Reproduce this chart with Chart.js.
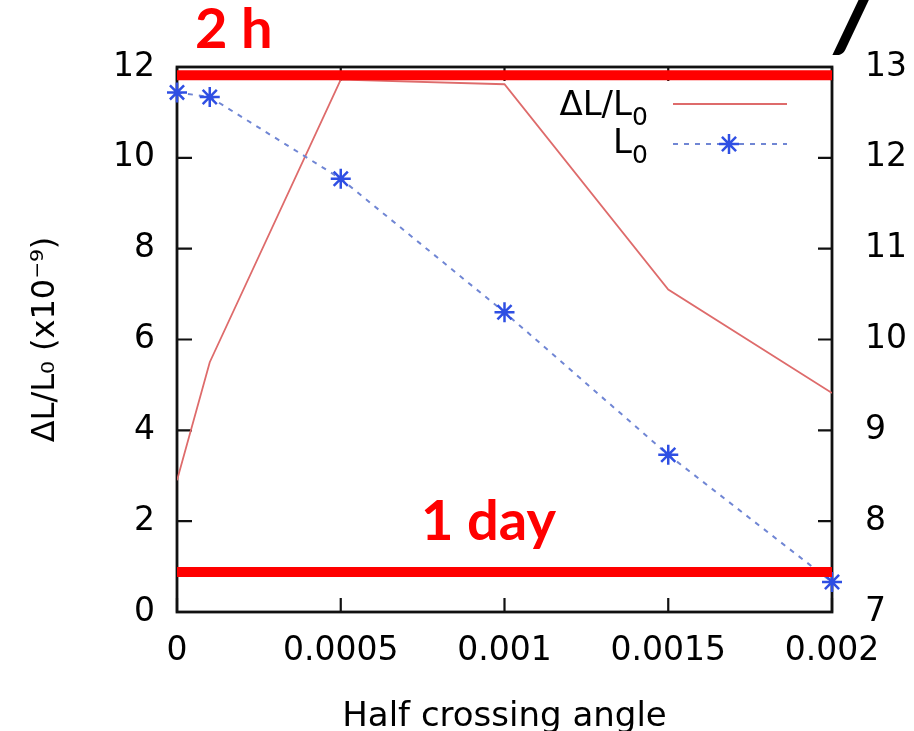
<!DOCTYPE html>
<html>
<head>
<meta charset="utf-8">
<script src="https://cdn.jsdelivr.net/npm/chart.js@4.4.1/dist/chart.umd.min.js"></script>
<style>
html,body{margin:0;padding:0;background:#fff;}
</style>
</head>
<body>
<canvas id="chart" width="914" height="731"></canvas>
<script>
// half crossing angle
var angles = [0, 0.0001, 0.0005, 0.001, 0.0015, 0.002];
// dL/L0 (x1e-9), left axis
var deltaL = [2.9, 5.5, 11.72, 11.62, 7.1, 4.82];
// L0, right axis
var lumi0 = [12.72, 12.67, 11.77, 10.3, 8.73, 7.33];
// thick red marker lines, in left axis units
var markLevels = [11.82, 0.88];
var markLabels = ['2 h', '1 day'];
var xTicks = [0, 0.0005, 0.001, 0.0015, 0.002];
var xTickLabels = ['0', '0.0005', '0.001', '0.0015', '0.002'];
var leftTicks = [0, 2, 4, 6, 8, 10, 12];
var rightTicks = [7, 8, 9, 10, 11, 12, 13];

Chart.defaults.font.family = '"DejaVu Sans"';
Chart.defaults.color = '#000';

function pts(ys){
  return ys.map(function(y, i){ return {x: angles[i], y: y}; });
}
function flat(v){
  return [{x: xTicks[0], y: v}, {x: xTicks[xTicks.length - 1], y: v}];
}
function setTicks(list){
  return function(s){ s.ticks = list.map(function(v){ return {value: v}; }); };
}

var frame = {
  id: 'frame',
  beforeDatasetsDraw: function(chart){
    var ctx = chart.ctx, a = chart.chartArea;
    var x = chart.scales.x, yl = chart.scales.y, yr = chart.scales.y2;
    ctx.save();
    ctx.strokeStyle = '#111';
    ctx.lineWidth = 2.2;
    ctx.beginPath();
    xTicks.forEach(function(v){
      var px = x.getPixelForValue(v);
      ctx.moveTo(px, a.bottom); ctx.lineTo(px, a.bottom - 14);
      ctx.moveTo(px, a.top); ctx.lineTo(px, a.top + 14);
    });
    leftTicks.forEach(function(v){
      var py = yl.getPixelForValue(v);
      ctx.moveTo(a.left, py); ctx.lineTo(a.left + 15, py);
    });
    rightTicks.forEach(function(v){
      var py = yr.getPixelForValue(v);
      ctx.moveTo(a.right, py); ctx.lineTo(a.right - 14, py);
    });
    ctx.stroke();
    ctx.lineWidth = 2.8;
    ctx.strokeRect(a.left, a.top, a.right - a.left, a.bottom - a.top);
    ctx.restore();
  },
  afterDraw: function(chart){
    var ctx = chart.ctx, a = chart.chartArea, yl = chart.scales.y;
    var ds = chart.data.datasets;
    ctx.save();
    // legend
    ctx.fillStyle = '#000';
    ctx.textBaseline = 'alphabetic';
    ctx.textAlign = 'right';
    ctx.font = '34px "DejaVu Sans"';
    ctx.fillText('\u0394L/L', 632, 115);
    ctx.fillText('L', 632, 153);
    ctx.textAlign = 'left';
    ctx.font = '25px "DejaVu Sans"';
    ctx.fillText('0', 632, 125);
    ctx.fillText('0', 632, 163);

    ctx.strokeStyle = ds[0].borderColor;
    ctx.lineWidth = ds[0].borderWidth;
    ctx.beginPath(); ctx.moveTo(673, 104); ctx.lineTo(787, 104); ctx.stroke();

    ctx.strokeStyle = ds[1].borderColor;
    ctx.lineWidth = ds[1].borderWidth;
    ctx.setLineDash(ds[1].borderDash);
    ctx.beginPath(); ctx.moveTo(673, 144); ctx.lineTo(787, 144); ctx.stroke();
    ctx.setLineDash([]);
    ctx.strokeStyle = ds[1].pointBorderColor;
    ctx.lineWidth = ds[1].pointBorderWidth;
    var r = ds[1].pointRadius, cx = 729, cy = 144;
    ctx.beginPath();
    for (var k = 0; k < 4; k++) {
      var t = k * Math.PI / 4;
      ctx.moveTo(cx - r * Math.cos(t), cy - r * Math.sin(t));
      ctx.lineTo(cx + r * Math.cos(t), cy + r * Math.sin(t));
    }
    ctx.stroke();

    // red annotations
    ctx.fillStyle = '#ff0000';
    ctx.font = 'bold 56px Lato';
    ctx.textAlign = 'left';
    ctx.fillText(markLabels[0], a.left + 18, yl.getPixelForValue(markLevels[0]) - 27);
    ctx.fillText(markLabels[1], a.left + 244, yl.getPixelForValue(markLevels[1]) - 32);

    // cut-off glyph from the slide title above
    ctx.fillStyle = '#000';
    ctx.font = 'italic 900 96px Lato';
    ctx.fillText('/', 834, 50);
    ctx.restore();
  }
};

new Chart(document.getElementById('chart'), {
  type: 'line',
  data: {
    datasets: [
      {
        label: '\u0394L/L\u2080',
        data: pts(deltaL),
        yAxisID: 'y',
        borderColor: '#de6b6b',
        borderWidth: 1.8,
        pointRadius: 0,
        tension: 0,
        order: 2
      },
      {
        label: 'L\u2080',
        data: pts(lumi0),
        yAxisID: 'y2',
        borderColor: '#7086d4',
        borderWidth: 2,
        borderDash: [5, 6],
        pointStyle: 'star',
        pointRadius: 10,
        pointBorderWidth: 2.5,
        pointBorderColor: '#2f4fe3',
        pointBackgroundColor: '#2f4fe3',
        tension: 0,
        clip: false,
        order: 1
      },
      {
        label: 'top',
        data: flat(markLevels[0]),
        yAxisID: 'y',
        borderColor: '#ff0000',
        borderWidth: 10,
        pointRadius: 0,
        order: 0
      },
      {
        label: 'bottom',
        data: flat(markLevels[1]),
        yAxisID: 'y',
        borderColor: '#ff0000',
        borderWidth: 10,
        pointRadius: 0,
        order: 0
      }
    ]
  },
  options: {
    responsive: false,
    animation: false,
    devicePixelRatio: 1,
    layout: { padding: { top: 67, left: 0, right: 0, bottom: 0 } },
    plugins: {
      legend: { display: false },
      tooltip: { enabled: false }
    },
    scales: {
      x: {
        type: 'linear',
        min: 0,
        max: 0.002,
        afterBuildTicks: setTicks(xTicks),
        afterFit: function(s){ s.height = 119; },
        grid: { display: false, drawTicks: false },
        border: { display: false },
        ticks: {
          padding: 20,
          font: { size: 33 },
          callback: function(v, i){ return xTickLabels[i]; }
        },
        title: {
          display: true,
          text: 'Half crossing angle',
          font: { size: 34, lineHeight: 1 },
          padding: { top: 0, bottom: -3 }
        }
      },
      y: {
        position: 'left',
        min: 0,
        max: 12,
        afterBuildTicks: setTicks(leftTicks),
        afterFit: function(s){ s.width = 177; },
        grid: { display: false, drawTicks: false },
        border: { display: false },
        ticks: { padding: 22, font: { size: 33 } },
        title: {
          display: true,
          text: '\u0394L/L\u2080 (x10\u207b\u2079)',
          font: { size: 32 },
          padding: { top: 26, bottom: 0 }
        }
      },
      y2: {
        position: 'right',
        min: 7,
        max: 13,
        afterBuildTicks: setTicks(rightTicks),
        afterFit: function(s){ s.width = 82; },
        grid: { display: false, drawTicks: false },
        border: { display: false },
        ticks: { padding: 33, font: { size: 33 } }
      }
    }
  },
  plugins: [frame]
});
</script>
</body>
</html>
